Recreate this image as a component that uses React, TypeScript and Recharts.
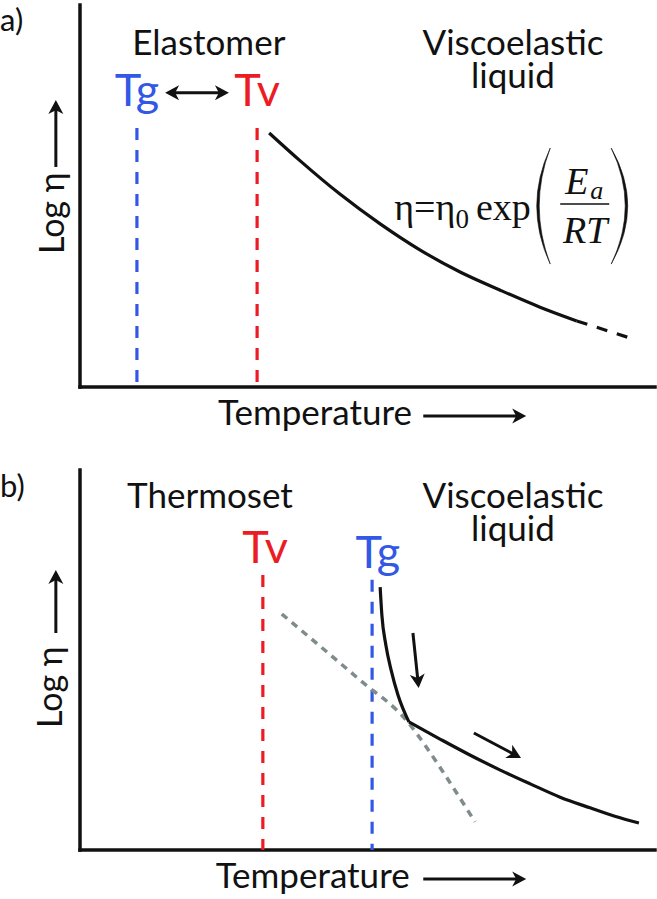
import React from 'react';
import { ComposedChart, Line, XAxis, YAxis, ReferenceLine, ReferenceDot } from 'recharts';

// ---------- shared style constants ----------
const CHART_W = 657;
const SANS = "Lato, 'Open Sans', 'Noto Sans', sans-serif";
const SERIF = "'Liberation Serif', 'DejaVu Serif', serif";
const INK = '#111111';
const BLUE = '#3358e6';
const RED = '#ec1c24';
const GRAY = '#7f8b8d';

// ---------- panel a data (temperature vs log viscosity, arbitrary units 0..100) ----------
const aFlowSolid = [
  { x: 32.9, y: 66.5 },
  { x: 38.3, y: 59.2 },
  { x: 45.2, y: 50.5 },
  { x: 52.2, y: 42.7 },
  { x: 59.1, y: 35.9 },
  { x: 66.1, y: 30.1 },
  { x: 73.0, y: 25.4 },
  { x: 80.0, y: 20.9 },
  { x: 86.4, y: 17.3 },
];
const aFlowExtrapolated = [
  { x: 86.4, y: 17.3 },
  { x: 95.7, y: 12.8 },
];
const aTg = 9.9;
const aTv = 30.8;
const aGuideTop = 67.8;

// ---------- panel b data ----------
const bTv = 31.8;
const bTvTop = 72.4;
const bTg = 50.8;
const bTgTop = 71.1;
const bGlassyBranch = [
  { x: 52.2, y: 69.2 },
  { x: 52.5, y: 61.8 },
  { x: 53.2, y: 53.9 },
  { x: 54.1, y: 47.4 },
  { x: 55.3, y: 40.8 },
  { x: 57.2, y: 33.7 },
];
const bFlowBranch = [
  { x: 57.2, y: 33.7 },
  { x: 62.6, y: 29.2 },
  { x: 67.8, y: 25.0 },
  { x: 73.0, y: 21.1 },
  { x: 78.3, y: 17.4 },
  { x: 83.5, y: 13.9 },
  { x: 88.7, y: 11.1 },
  { x: 93.0, y: 8.9 },
  { x: 97.2, y: 7.1 },
];
const bExchangeDashed = [
  { x: 35.1, y: 62.1 },
  { x: 41.7, y: 53.7 },
  { x: 48.7, y: 44.7 },
  { x: 57.0, y: 33.7 },
  { x: 60.0, y: 27.6 },
  { x: 63.5, y: 19.7 },
  { x: 68.7, y: 7.4 },
];

// ---------- text labels ----------
const aTexts = [
  { lines: ['a)'], x: -13.9, y: 93.2, size: 31, color: INK, anchor: 'start' },
  { lines: ['Elastomer'], x: 22.4, y: 86.9, size: 35, color: INK, anchor: 'middle' },
  { lines: ['Viscoelastic', 'liquid'], x: 75.3, y: 86.9, size: 35, color: INK, anchor: 'middle' },
  { lines: ['Tg'], x: 9.9, y: 73.6, size: 45, color: BLUE, anchor: 'middle' },
  { lines: ['Tv'], x: 30.8, y: 73.6, size: 45, color: RED, anchor: 'middle' },
  { lines: ['Temperature'], x: 24.0, y: -9.9, size: 35, color: INK, anchor: 'start' },
];
const bTexts = [
  { lines: ['b)'], x: -13.9, y: 93.0, size: 31, color: INK, anchor: 'start' },
  { lines: ['Thermoset'], x: 22.6, y: 90.0, size: 35, color: INK, anchor: 'middle' },
  { lines: ['Viscoelastic', 'liquid'], x: 75.3, y: 90.0, size: 35, color: INK, anchor: 'middle' },
  { lines: ['Tv'], x: 32.2, y: 75.5, size: 45, color: RED, anchor: 'middle' },
  { lines: ['Tg'], x: 51.8, y: 74.2, size: 45, color: BLUE, anchor: 'middle' },
  { lines: ['Temperature'], x: 23.6, y: -10.0, size: 35, color: INK, anchor: 'start' },
];
const yTitle = 'Log η';
const aYTitlePos = { x: -2.8, y: 34.8 };
const bYTitlePos = { x: -3.1, y: 32.1 };

// arrows
const aArrows = [
  { from: { x: 14.8, y: 77.0 }, to: { x: 25.9, y: 77.0 }, both: true },
  { from: { x: 59.7, y: -7.6 }, to: { x: 77.6, y: -7.6 }, both: false },
  { from: { x: -4.2, y: 57.6 }, to: { x: -4.2, y: 75.1 }, both: false },
];
const bArrows = [
  { from: { x: 57.9, y: 57.1 }, to: { x: 58.9, y: 42.6 }, both: false },
  { from: { x: 68.5, y: 30.8 }, to: { x: 76.7, y: 24.2 }, both: false },
  { from: { x: 59.7, y: -7.6 }, to: { x: 77.6, y: -7.6 }, both: false },
  { from: { x: -4.2, y: 57.1 }, to: { x: -4.2, y: 73.7 }, both: false },
];
const equationAnchor = { x: 54.3, y: 43.7 };

// ---------- drawing helpers ----------
function head(tx: number, ty: number, ux: number, uy: number) {
  const L = 14, H = 7.5;
  const nx = -uy, ny = ux;
  const bx = tx - L * ux, by = ty - L * uy;
  const ix = tx - 0.72 * L * ux, iy = ty - 0.72 * L * uy;
  return `M${tx},${ty} L${bx + H * nx},${by + H * ny} L${ix},${iy} L${bx - H * nx},${by - H * ny} Z`;
}

const arrowShape = (both: boolean) => (p: any) => {
  const { x1, y1, x2, y2 } = p;
  const dx = x2 - x1, dy = y2 - y1;
  const len = Math.sqrt(dx * dx + dy * dy) || 1;
  const ux = dx / len, uy = dy / len;
  const sx = both ? x1 + 9 * ux : x1;
  const sy = both ? y1 + 9 * uy : y1;
  const ex = x2 - 9 * ux, ey = y2 - 9 * uy;
  return (
    <g>
      <line x1={sx} y1={sy} x2={ex} y2={ey} stroke={INK} strokeWidth={3} />
      <path d={head(x2, y2, ux, uy)} fill={INK} />
      {both ? <path d={head(x1, y1, -ux, -uy)} fill={INK} /> : null}
    </g>
  );
};

function renderText(t: any, i: number) {
  return (
    <ReferenceDot
      key={'t' + i}
      x={t.x}
      y={t.y}
      r={0}
      ifOverflow="visible"
      shape={(p: any) => (
        <text x={p.cx} y={p.cy} fill={t.color} fontSize={t.size} fontFamily={SANS} textAnchor={t.anchor}>
          {t.lines.map((ln: string, k: number) => (
            <tspan key={k} x={p.cx} dy={k === 0 ? 0 : 33}>
              {ln}
            </tspan>
          ))}
        </text>
      )}
    />
  );
}

function renderYTitle(pos: { x: number; y: number }) {
  return (
    <ReferenceDot
      key="ytitle"
      x={pos.x}
      y={pos.y}
      r={0}
      ifOverflow="visible"
      shape={(p: any) => (
        <text
          x={p.cx}
          y={p.cy}
          fill={INK}
          fontSize={34}
          fontFamily={SANS}
          textAnchor="start"
          transform={`rotate(-90 ${p.cx} ${p.cy})`}
        >
          {yTitle}
        </text>
      )}
    />
  );
}

function renderArrow(a: any, i: number) {
  return (
    <ReferenceLine key={'ar' + i} segment={[a.from, a.to]} ifOverflow="visible" shape={arrowShape(a.both)} />
  );
}

function renderAxes() {
  return [
    <ReferenceLine key="xa" segment={[{ x: 0, y: 0 }, { x: 100, y: 0 }]} stroke={INK} strokeWidth={3.5} strokeLinecap="square" ifOverflow="visible" />,
    <ReferenceLine key="ya" segment={[{ x: 0, y: 0 }, { x: 0, y: 100 }]} stroke={INK} strokeWidth={3.5} strokeLinecap="square" ifOverflow="visible" />,
  ];
}

const equationShape = (p: any) => {
  const cx = p.cx, cy = p.cy;
  return (
    <g fill={INK} fontFamily={SERIF}>
      <text x={cx + 2} y={cy} fontSize={38}>
        η=η
        <tspan fontSize={27} dy={8}>0</tspan>
        <tspan dy={-8} dx={7}>exp</tspan>
      </text>
      <path d={`M${cx + 158},${cy - 72} Q${cx + 131},${cy - 14} ${cx + 158},${cy + 44} Q${cx + 136},${cy - 14} ${cx + 158},${cy - 72} Z`} stroke={INK} strokeWidth={0.6} />
      <path d={`M${cx + 219},${cy - 72} Q${cx + 252},${cy - 14} ${cx + 219},${cy + 44} Q${cx + 247},${cy - 14} ${cx + 219},${cy - 72} Z`} stroke={INK} strokeWidth={0.6} />
      <text x={cx + 173} y={cy - 26} fontSize={38} fontStyle="italic">E</text>
      <text x={cx + 198} y={cy - 21} fontSize={26} fontStyle="italic">a</text>
      <line x1={cx + 168} y1={cy - 16} x2={cx + 217} y2={cy - 16} stroke={INK} strokeWidth={1.6} />
      <text x={cx + 193} y={cy + 23} fontSize={38} fontStyle="italic" textAnchor="middle">RT</text>
    </g>
  );
};

const lineCommon = {
  type: 'monotone' as const,
  dataKey: 'y',
  dot: false,
  activeDot: false,
  isAnimationActive: false,
  strokeLinecap: 'butt' as const,
};

export default function App() {
  return (
    <div style={{ position: 'absolute', left: 0, top: 0, width: CHART_W, height: 899, background: '#fff' }}>
      {/* Panel a */}
      <div style={{ position: 'absolute', left: 0, top: 0 }}>
        <ComposedChart width={CHART_W} height={440} margin={{ top: 5, right: 2, bottom: 53, left: 80 }}>
          <XAxis type="number" dataKey="x" domain={[0, 100]} allowDataOverflow hide />
          <YAxis type="number" domain={[0, 100]} allowDataOverflow hide />
          {renderAxes()}
          <ReferenceLine segment={[{ x: aTg, y: aGuideTop }, { x: aTg, y: 0 }]} stroke={BLUE} strokeWidth={3.2} strokeDasharray="12 10" ifOverflow="visible" />
          <ReferenceLine segment={[{ x: aTv, y: aGuideTop }, { x: aTv, y: 0 }]} stroke={RED} strokeWidth={3.2} strokeDasharray="12 10" ifOverflow="visible" />
          <Line {...lineCommon} data={aFlowSolid} stroke={INK} strokeWidth={3.2} />
          <Line {...lineCommon} type="linear" data={aFlowExtrapolated} stroke={INK} strokeWidth={3.2} strokeDasharray="11 10" />
          {aTexts.map(renderText)}
          {renderYTitle(aYTitlePos)}
          {aArrows.map(renderArrow)}
          <ReferenceDot x={equationAnchor.x} y={equationAnchor.y} r={0} ifOverflow="visible" shape={equationShape} />
        </ComposedChart>
      </div>
      {/* Panel b */}
      <div style={{ position: 'absolute', left: 0, top: 440 }}>
        <ComposedChart width={CHART_W} height={459} margin={{ top: 30, right: 2, bottom: 49, left: 80 }}>
          <XAxis type="number" dataKey="x" domain={[0, 100]} allowDataOverflow hide />
          <YAxis type="number" domain={[0, 100]} allowDataOverflow hide />
          {renderAxes()}
          <ReferenceLine segment={[{ x: bTv, y: bTvTop }, { x: bTv, y: 0 }]} stroke={RED} strokeWidth={3.2} strokeDasharray="12 10" ifOverflow="visible" />
          <ReferenceLine segment={[{ x: bTg, y: bTgTop }, { x: bTg, y: 0 }]} stroke={BLUE} strokeWidth={3.2} strokeDasharray="12 10" ifOverflow="visible" />
          <Line {...lineCommon} data={bExchangeDashed} stroke={GRAY} strokeWidth={3.5} strokeDasharray="7 6" />
          <Line {...lineCommon} data={bGlassyBranch} stroke={INK} strokeWidth={3.2} />
          <Line {...lineCommon} data={bFlowBranch} stroke={INK} strokeWidth={3.2} />
          {bTexts.map(renderText)}
          {renderYTitle(bYTitlePos)}
          {bArrows.map(renderArrow)}
        </ComposedChart>
      </div>
    </div>
  );
}
